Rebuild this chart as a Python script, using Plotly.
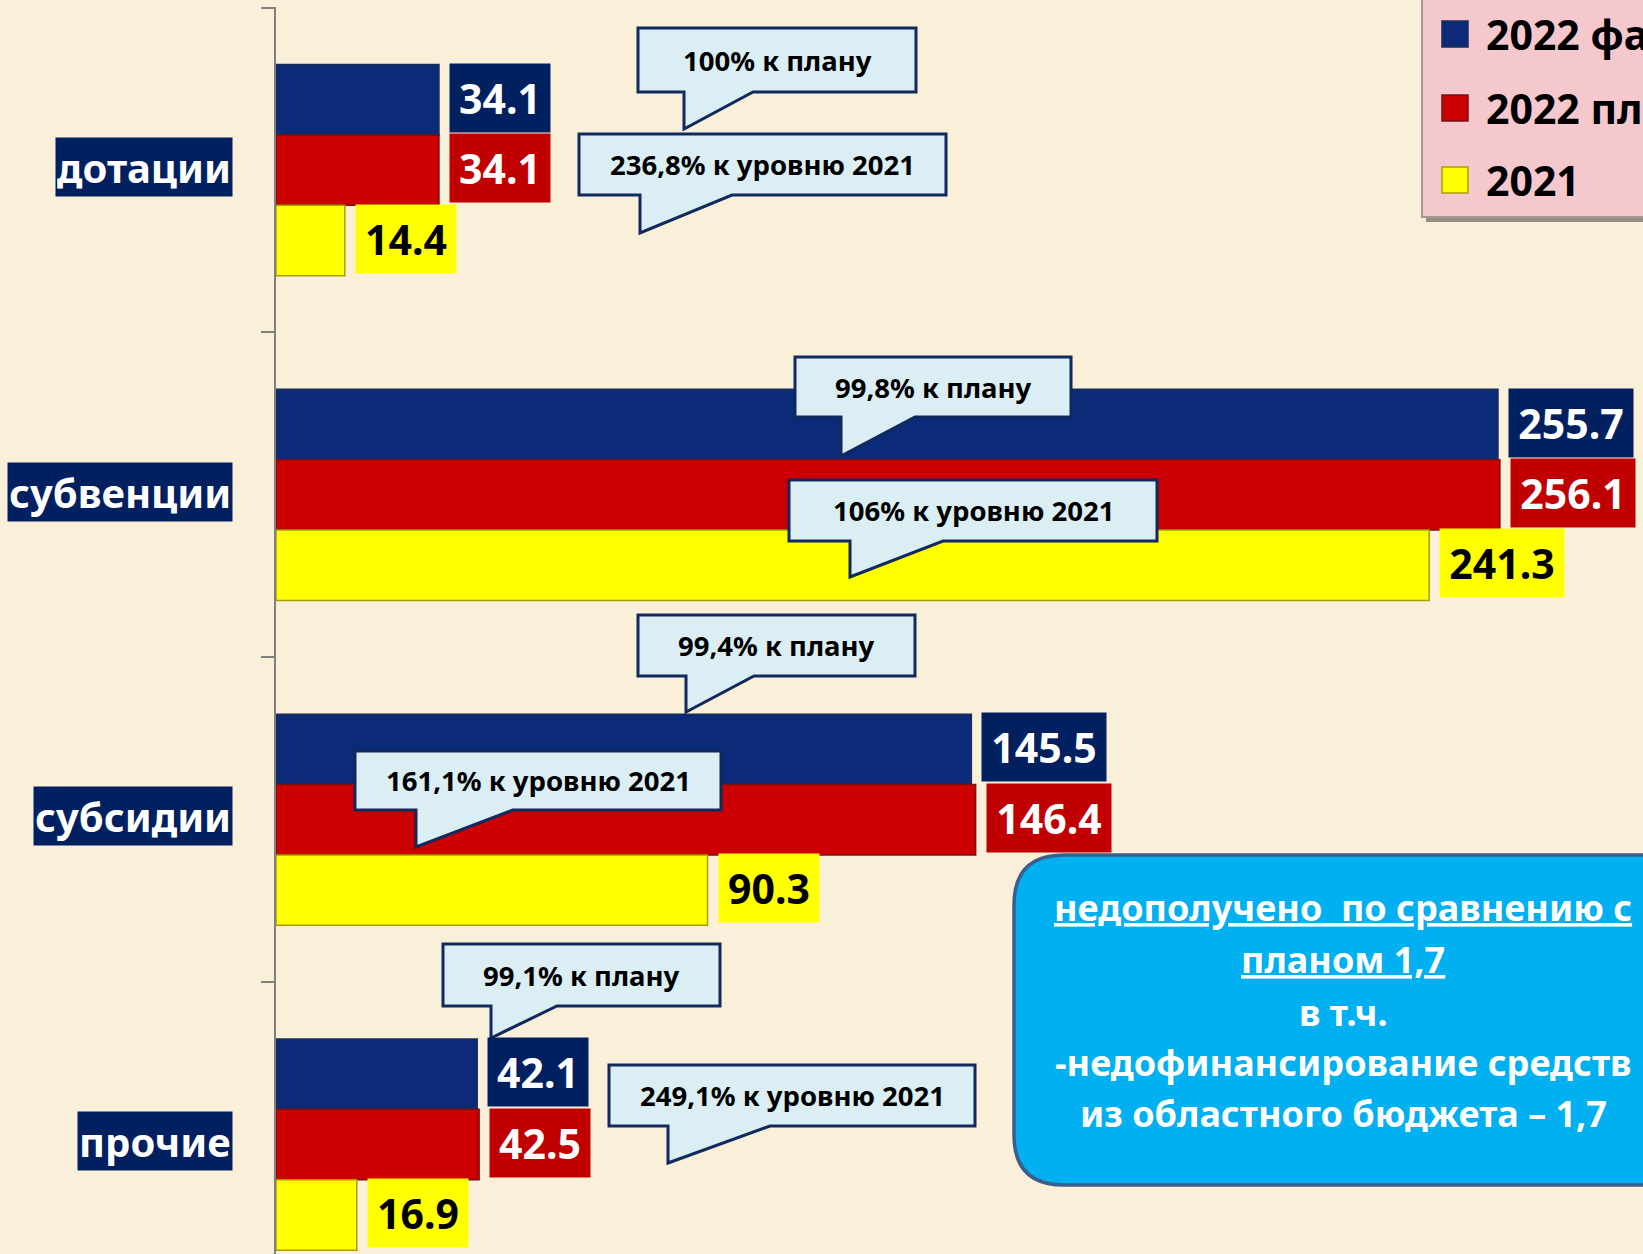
import plotly.graph_objects as go

# ---------------- data ----------------
categories = ["дотации", "субвенции", "субсидии", "прочие"]
series_names = ["2022 факт", "2022 план", "2021"]
fact_2022 = [34.1, 255.7, 145.5, 42.1]
plan_2022 = [34.1, 256.1, 146.4, 42.5]
fact_2021 = [14.4, 241.3, 90.3, 16.9]
pct_plan = ["100% к плану", "99,8% к плану", "99,4% к плану", "99,1% к плану"]
pct_prev = ["236,8% к уровню 2021", "106% к уровню 2021", "161,1% к уровню 2021", "249,1% к уровню 2021"]
note_lines = ["недополучено  по сравнению с", "планом 1,7", "в т.ч.",
              "-недофинансирование средств", "из областного бюджета – 1,7"]

# ---------------- style ----------------
W, H = 1643, 1254
FONT = "Noto Sans"
BG = "#FAF0D9"
bar_colors = ["#0B2A78", "#CC0000", "#FFFF00"]
bar_edges = ["#1B2E55", "#7A1010", "#A8A000"]
lab_bg = ["#002060", "#C00000", "#FFFF00"]
lab_fg = ["white", "white", "black"]

def px(x, y):
    return x / W, 1 - y / H

def path(points):
    s = ""
    for i, (x, y) in enumerate(points):
        X, Y = px(x, y)
        s += ("M" if i == 0 else "L") + f"{X:.5f},{Y:.5f} "
    return s + "Z"

series = [fact_2022, plan_2022, fact_2021]
ypos = list(range(len(categories)))

fig = go.Figure()
for k, vals in enumerate(series):
    fig.add_trace(go.Bar(
        x=vals, y=ypos, orientation="h", name=series_names[k],
        marker=dict(color=bar_colors[k], line=dict(color=bar_edges[k], width=1.5)),
        showlegend=False, hoverinfo="x"))

BARGAP = 0.35
bw = (1 - BARGAP) / 3
ann = []
shapes = []

# value labels
for k, vals in enumerate(series):
    for i, v in enumerate(vals):
        txt = f"{v:.1f}"
        ann.append(dict(x=v, y=i + (k - 1) * bw - 0.006, xref="x", yref="y", text=f"<b>{txt}</b>",
                        showarrow=False, xanchor="left", yanchor="middle", xshift=10,
                        bgcolor=lab_bg[k], font=dict(family=FONT, size=41, color=lab_fg[k]),
                        width=92 if len(txt) == 4 else 116, height=60, borderpad=4))

# category labels
for i, c in enumerate(categories):
    ann.append(dict(x=233 / W, y=i - 0.01, xref="paper", yref="y", text=f"<b>{c}</b>",
                    showarrow=False, xanchor="right", yanchor="middle",
                    bgcolor="#002060", font=dict(family=FONT, size=40, color="white"),
                    height=56, borderpad=1))

# callouts: x0, y0, x1, y1, tail left x, tail right x, tip y
callouts = [
    (638, 28, 916, 92, 684, 753, 129, pct_plan[0]),
    (579, 134, 946, 195, 640, 732, 233, pct_prev[0]),
    (795, 357, 1071, 417, 841, 915, 456, pct_plan[1]),
    (789, 480, 1157, 541, 850, 943, 577, pct_prev[1]),
    (638, 615, 915, 676, 686, 754, 712, pct_plan[2]),
    (355, 751, 721, 810, 416, 513, 847, pct_prev[2]),
    (443, 944, 720, 1006, 491, 557, 1038, pct_plan[3]),
    (609, 1065, 975, 1126, 668, 770, 1163, pct_prev[3]),
]
for x0, y0, x1, y1, tl, tr, ty, t in callouts:
    pts = [(x0, y0), (x1, y0), (x1, y1), (tr, y1), (tl, ty), (tl, y1), (x0, y1)]
    shapes.append(dict(type="path", xref="paper", yref="paper", path=path(pts),
                       fillcolor="#DAEEF3", line=dict(color="#10295E", width=3), layer="above"))
    cx, cy = px((x0 + x1) / 2, (y0 + y1) / 2)
    ann.append(dict(x=cx, y=cy, xref="paper", yref="paper", text=f"<b>{t}</b>", showarrow=False,
                    xanchor="center", yanchor="middle",
                    font=dict(family=FONT, size=27.5, color="black")))

# blue note box (rounded)
bx0, by0, bx1, by1, r = 1014, 855, 1690, 1185, 50
pts = [(bx0 + r, by0), (bx1 - r, by0), ("Q", bx1, by0, bx1, by0 + r), (bx1, by1 - r),
       ("Q", bx1, by1, bx1 - r, by1), (bx0 + r, by1), ("Q", bx0, by1, bx0, by1 - r),
       (bx0, by0 + r), ("Q", bx0, by0, bx0 + r, by0)]
s = ""
for i, p in enumerate(pts):
    if p[0] == "Q":
        a = px(p[1], p[2]); b = px(p[3], p[4])
        s += f"Q{a[0]:.5f},{a[1]:.5f} {b[0]:.5f},{b[1]:.5f} "
    else:
        a = px(*p)
        s += ("M" if i == 0 else "L") + f"{a[0]:.5f},{a[1]:.5f} "
s += "Z"
shapes.append(dict(type="path", xref="paper", yref="paper", path=s,
                   fillcolor="#00B0F0", line=dict(color="#3A5F8F", width=3.5), layer="above"))
note_y = [907, 959, 1012, 1062, 1113]
for j, (ln, yy) in enumerate(zip(note_lines, note_y)):
    tx = f"<b><u>{ln}</u></b>" if j < 2 else f"<b>{ln}</b>"
    X, Y = px(1343, yy)
    ann.append(dict(x=X, y=Y, xref="paper", yref="paper", text=tx, showarrow=False,
                    xanchor="center", yanchor="middle",
                    font=dict(family=FONT, size=36, color="white")))

# legend box (manual)
shapes.append(dict(type="rect", xref="paper", yref="paper",
                   x0=px(1426, 0)[0], x1=px(1700, 0)[0], y0=px(0, 222)[1], y1=px(0, -20)[1],
                   fillcolor="#9A8C84", line=dict(width=0), layer="above"))
shapes.append(dict(type="rect", xref="paper", yref="paper",
                   x0=px(1422, 0)[0], x1=px(1700, 0)[0], y0=px(0, 217)[1], y1=px(0, -20)[1],
                   fillcolor="#F4C8CC", line=dict(color="#A89890", width=2), layer="above"))
leg_y = [34, 108, 180]
for k, yy in enumerate(leg_y):
    a = px(1442, yy - 13); b = px(1468, yy + 13)
    shapes.append(dict(type="rect", xref="paper", yref="paper", x0=a[0], x1=b[0], y0=b[1], y1=a[1],
                       fillcolor=bar_colors[k], line=dict(color=bar_edges[k], width=1.5), layer="above"))
    X, Y = px(1484, yy)
    ann.append(dict(x=X, y=Y, xref="paper", yref="paper", text=f"<b>{series_names[k]}</b>",
                    showarrow=False, xanchor="left", yanchor="middle",
                    font=dict(family=FONT, size=41, color="black")))

ytop = 7
ybottom_val = -0.5 + (H - ytop) / 325.0

fig.update_layout(
    width=W, height=H, margin=dict(l=0, r=0, t=0, b=0, pad=0, autoexpand=False),
    paper_bgcolor=BG, plot_bgcolor=BG,
    barmode="group", bargap=BARGAP, bargroupgap=0,
    xaxis=dict(domain=[276 / W, 1], range=[0, (W - 276) / 4.779], showgrid=False,
               zeroline=False, showticklabels=False, showline=False, ticks=""),
    yaxis=dict(domain=[0, 1 - ytop / H], range=[ybottom_val, -0.502], showgrid=False,
               zeroline=False, showticklabels=False, showline=True, linecolor="#808080",
               linewidth=1.5, ticks="outside", ticklen=13, tickcolor="#808080", tickwidth=1.5,
               tickvals=[-0.5, 0.5, 1.5, 2.5]),
    annotations=ann, shapes=shapes, font=dict(family=FONT),
)

fig.write_html("out.html", config={"displayModeBar": False},
               post_script="document.body.style.margin='0';")
